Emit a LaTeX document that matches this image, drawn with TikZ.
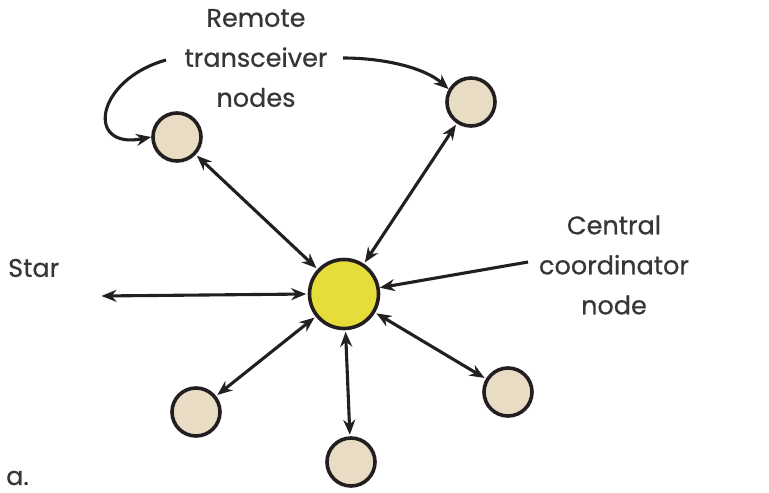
\documentclass[tikz,border=0pt]{standalone}
\usepackage{fontspec}
\setmainfont{Poppins}[FakeBold=0.6]
\usetikzlibrary{arrows.meta}
\definecolor{ink}{HTML}{231F20}
\definecolor{beige}{HTML}{E8DCC4}
\definecolor{yel}{HTML}{E6DC3A}
\tikzset{
  remote/.style={circle,draw=ink,line width=3.6pt,fill=beige,minimum size=48pt,inner sep=0pt},
  central/.style={circle,draw=ink,line width=3.6pt,fill=yel,minimum size=69pt,inner sep=0pt},
  tip/.tip={Stealth[length=15pt,width=12pt]},
  link/.style={ink,line width=3.1pt,tip-tip,shorten <=1.5pt,shorten >=1.5pt},
  callout/.style={ink,line width=3.1pt,-tip},
  lbl/.style={font=\fontsize{25.5pt}{40pt}\selectfont,text=ink!90,align=center,inner sep=0pt}
}
\begin{document}
\begin{tikzpicture}[x=1pt,y=-1pt]
\useasboundingbox (0,0) rectangle (769,493);
\node[central] (c) at (344,294) {};
\node[remote] (tl) at (177,137) {};
\node[remote] (tr) at (471,102) {};
\node[remote] (bl) at (196,412) {};
\node[remote] (bm) at (351,462) {};
\node[remote] (br) at (508,392) {};
\coordinate (lend) at (100,296);
\draw[link] (c) -- (tl);
\draw[link] (c) -- (tr);
\draw[link] (c) -- (bl);
\draw[link] (c) -- (bm);
\draw[link] (c) -- (br);
\draw[link] (c.180) -- (lend);
\node[lbl] (rt) at (256,58) {Remote\\transceiver\\nodes};
\node[lbl] (ct) at (614,265) {Central\\coordinator\\node};
\node[lbl,anchor=west] (star) at (8,268) {Star};
\node[lbl,anchor=west] (a) at (6,478) {a.};
\coordinate (s1) at (166,60);
\coordinate (s2) at (343,58);
\coordinate (s3) at (528,262);
\draw[callout] (s1) .. controls (95,80) and (85,150) .. (tl.west);
\draw[callout] (s2) .. controls (385,58) and (425,68) .. (tr.150);
\draw[callout] (s3) -- (c.10);
\end{tikzpicture}
\end{document}
